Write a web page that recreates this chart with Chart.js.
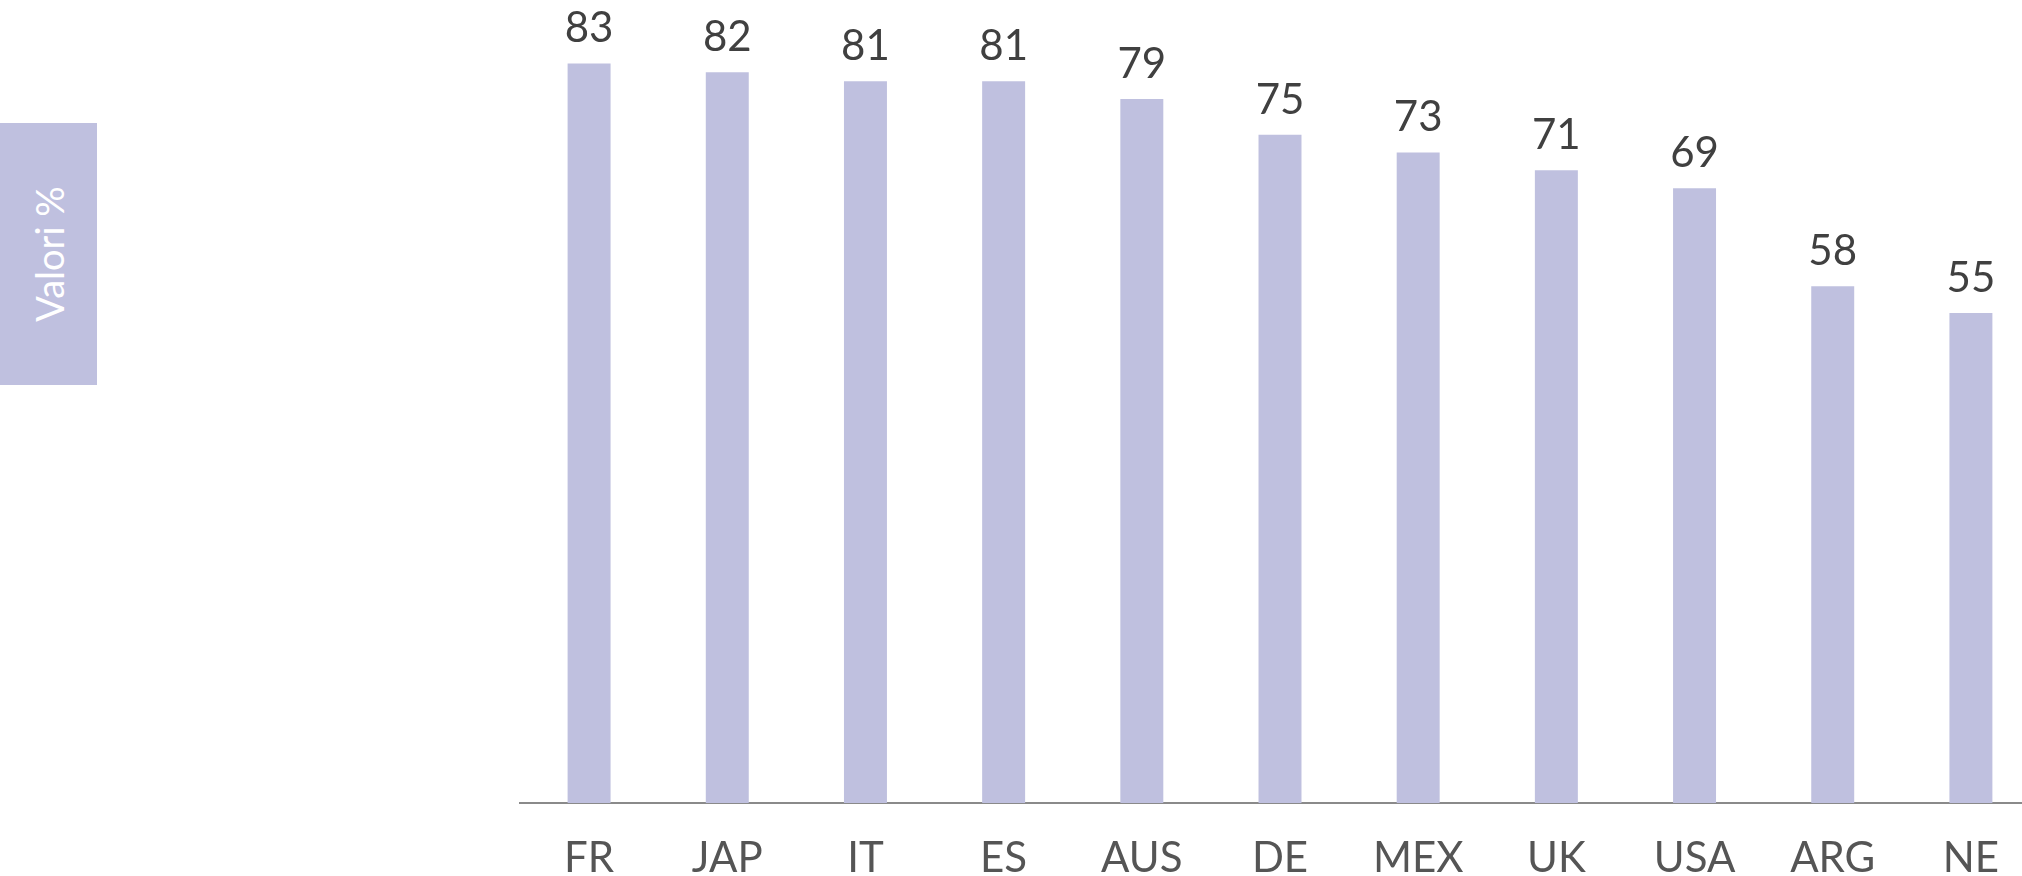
<!DOCTYPE html>
<html>
<head>
<meta charset="utf-8">
<script src="https://cdn.jsdelivr.net/npm/chart.js@4.4.0/dist/chart.umd.min.js"></script>
<style>
  html, body { margin: 0; padding: 0; background: #fff; overflow: hidden; }
  #wrap { position: relative; width: 2022px; height: 876px; overflow: hidden; }
  #myChart { position: absolute; left: 0; top: 0; }
  #ytitle {
    position: absolute; left: 0; top: 123px; width: 97px; height: 262px;
    background: #bfc0df;
  }
  #ytitle span {
    position: absolute; left: 50%; top: 50%;
    transform: translate(-50%, -50%) rotate(-90deg);
    color: #fff; font-family: Lato, sans-serif; font-weight: 400; font-size: 38px;
    white-space: nowrap;
  }
</style>
</head>
<body>
<div id="wrap">
  <canvas id="myChart" width="2040" height="876"></canvas>
  <div id="ytitle"><span>Valori %</span></div>
</div>
<script>
const countries = ['FR', 'JAP', 'IT', 'ES', 'AUS', 'DE', 'MEX', 'UK', 'USA', 'ARG', 'NE'];
const values = [83, 82, 81, 81, 79, 75, 73, 71, 69, 58, 55];
const yMin = 0;
const yMax = 90;

// labels over each bar
const valueLabels = {
  id: 'valueLabels',
  afterDatasetsDraw(chart) {
    const ctx = chart.ctx;
    const meta = chart.getDatasetMeta(0);
    ctx.save();
    ctx.font = '42px Lato, sans-serif';
    ctx.fillStyle = '#404040';
    ctx.textAlign = 'center';
    ctx.textBaseline = 'alphabetic';
    meta.data.forEach((bar, i) => {
      ctx.fillText(values[i], bar.x, bar.y - 21);
    });
    ctx.restore();
  }
};

const ctx = document.getElementById('myChart').getContext('2d');
const myChart = new Chart(ctx, {
  type: 'bar',
  data: {
    labels: countries,
    datasets: [{
      data: values,
      backgroundColor: '#bfc0df',
      barPercentage: 0.311,
      categoryPercentage: 1
    }]
  },
  options: {
    responsive: false,
    animation: false,
    devicePixelRatio: 1,
    layout: { padding: { left: 520, top: 1, right: 0, bottom: 0 } },
    plugins: { legend: { display: false }, tooltip: { enabled: false } },
    scales: {
      y: { display: false, min: yMin, max: yMax },
      x: {
        grid: { display: false },
        border: { display: true, color: '#8a8a8a', width: 2 },
        ticks: {
          color: '#555555',
          padding: 22,
          font: { family: 'Lato, sans-serif', size: 42 }
        },
        afterFit(scale) { scale.height = 73; }
      }
    }
  },
  plugins: [valueLabels]
});
</script>
</body>
</html>
